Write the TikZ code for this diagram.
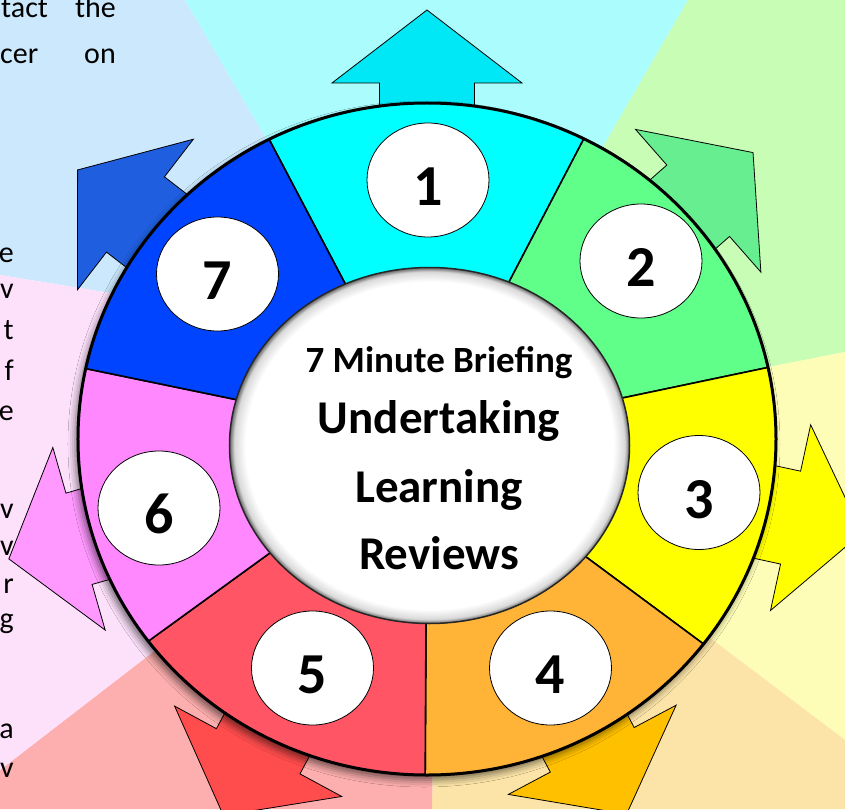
\documentclass[tikz,border=0pt]{standalone}
\usepackage{fontspec}
\setmainfont{Carlito}
\usetikzlibrary{arrows, positioning, shapes.geometric, shadows.blur}

% couleurs du fond
\definecolor{bgone}{HTML}{ABFCFD}
\definecolor{bgtwo}{HTML}{C8FDB5}
\definecolor{bgthree}{HTML}{FEFDB7}
\definecolor{bgfour}{HTML}{FCE4A8}
\definecolor{bgfive}{HTML}{FDAEAE}
\definecolor{bgsix}{HTML}{FDE1FB}
\definecolor{bgseven}{HTML}{CBE8FC}
% couleurs des fleches
\definecolor{arone}{HTML}{00E8F5}
\definecolor{artwo}{HTML}{66EE90}
\definecolor{arthree}{HTML}{FFFF00}
\definecolor{arfour}{HTML}{FFC000}
\definecolor{arfive}{HTML}{FF4D4D}
\definecolor{arsix}{HTML}{FF99FF}
\definecolor{arseven}{HTML}{1F5FDF}
% couleurs de la roue
\definecolor{segone}{HTML}{00FFFF}
\definecolor{segtwo}{HTML}{5FFF8A}
\definecolor{segthree}{HTML}{FFFF00}
\definecolor{segfour}{HTML}{FFB437}
\definecolor{segfive}{HTML}{FF5565}
\definecolor{segsix}{HTML}{FF88FF}
\definecolor{segseven}{HTML}{0044FF}

\pgfdeclareradialshading{rimglow}{\pgfpoint{0bp}{0bp}}{color(0bp)=(white); color(23bp)=(white); color(24.4bp)=(black!15); color(25bp)=(black!60); color(50bp)=(black!60)}

\tikzset{
    %Define style for the wheel pieces
    seg/.style={
           draw=black,
           line width=1.6pt},
    %Define style for the number discs
    numb/.style={
           ellipse,
           draw=black, line width=0.8pt,
           fill=white,
           minimum width=122pt,
           minimum height=114pt,
           inner sep=0pt,
           text height=51pt, text depth=0pt,
           font=\bfseries\fontsize{58}{58}\selectfont},
    % Define arrow style
    pfeil/.style={
           draw=black,
           line width=0.8pt,
           line join=miter},
    %Define style for the centre text
    ctitle/.style={
           inner sep=0pt,
           text height=25pt, text depth=9pt,
           font=\bfseries\fontsize{37}{40}\selectfont},
    cbig/.style={
           inner sep=0pt,
           text height=31pt, text depth=11pt,
           font=\bfseries\fontsize{47}{52}\selectfont},
    side/.style={
           inner sep=0pt,
           font=\fontsize{30}{36}\selectfont}
}

\begin{document}
\begin{tikzpicture}[x=1pt, y=1pt]
	\useasboundingbox (-427,-370) rectangle (418,439);
	\clip (-427,-370) rectangle (418,439);
	%
	% fond
	%
	\fill[bgseven] (11,7) -- (-177,123) -- (-427,164) -- (-427,439) -- (-242,439) -- cycle;
	\fill[bgone] (11,7) -- (-242,439) -- (261,439) -- cycle;
	\fill[bgtwo] (11,7) -- (261,439) -- (418,439) -- (418,87) -- cycle;
	\fill[bgthree] (11,7) -- (418,87) -- (418,-301) -- cycle;
	\fill[bgfour] (11,7) -- (418,-301) -- (418,-370) -- (5,-370) -- cycle;
	\fill[bgfive] (11,7) -- (5,-370) -- (-427,-370) -- (-427,-331) -- cycle;
	\fill[bgsix] (11,7) -- (-427,-331) -- (-427,164) -- (-177,123) -- cycle;
	%
	% texte coupe
	%
	\node[side, anchor=base west] (tact) at (-426,421) {tact};
	\node[side, anchor=base east] (the) at (-311,421) {the};
	\node[side, anchor=base west] (cer) at (-427,375) {cer};
	\node[side, anchor=base east] (on) at (-311,375) {on};
	\foreach \c/\py [count=\i] in {e/177, v/141, t/100, f/59, e/19, v/-79, v/-116, r/-154, g/-189, a/-299, v/-338}
		\node[side, anchor=base east] (frag\i) at (-413,\py) {\c};
	%
	% fleches
	%
	\foreach \ang/\rb/\col in {90/356/arone, 41.3/361/artwo, -12.2/372/arthree, -62/352/arfour, -118.4/355/arfive, -164/362/arsix, 142.4/368/arseven}
	{
		\begin{scope}[rotate=\ang]
			\filldraw[pfeil, fill=\col] (280,-47.5) -- (\rb,-47.5) -- (\rb,-95) -- (\rb+73,0) -- (\rb,95) -- (\rb,47.5) -- (280,47.5) -- cycle;
		\end{scope}
	}
	%
	% roue
	%
	\path[blur shadow={shadow xshift=-3pt, shadow yshift=-5pt, shadow blur radius=7pt, shadow opacity=55}, fill=white] (0,0) ellipse [x radius=349pt, y radius=336pt];
	\foreach \a/\b/\col in {116.9/63.3/segone, 63.3/12.3/segtwo, 12.3/-37.6/segthree, -37.6/-90.3/segfour, -90.3/-143/segfive, -143/-192.1/segsix, 167.9/116.9/segseven}
		\filldraw[seg, fill=\col] (0,0) -- (\a:349pt and 336pt) arc[start angle=\a, end angle=\b, x radius=349pt, y radius=336pt] -- cycle;
	\draw[line width=3pt] (0,0) ellipse [x radius=349pt, y radius=336pt];
	% centre
	\shade[shading=rimglow] (2.5,-6.5) ellipse [x radius=200pt, y radius=178pt];
	\draw[line width=1.5pt, black!85] (2.5,-6.5) ellipse [x radius=200pt, y radius=178pt];
	%
	% numeros
	%
	\foreach \n/\px/\py in {1/1/259, 2/214/178, 3/272/-53.5, 4/123.5/-229, 5/-114.5/-229, 6/-268/-69, 7/-209.5/165}
		\node[numb] (num\n) at (\px,\py) {\n};
	%
	% titre
	%
	\node[ctitle, anchor=base] (titl) at (12,67) {7 Minute Briefing};
	\node[cbig, below=21pt of titl] (undert) {Undertaking};
	\node[cbig, below=27pt of undert] (learn) {Learning};
	\node[cbig, below=24pt of learn] (revi) {Reviews};
\end{tikzpicture}
\end{document}
